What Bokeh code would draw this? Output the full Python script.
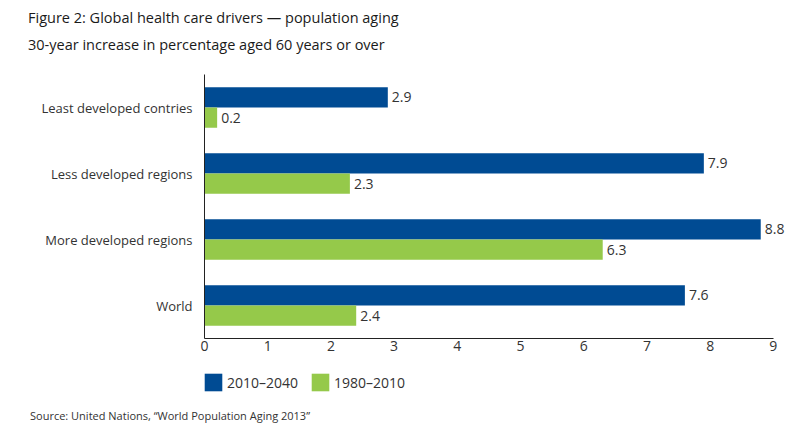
from bokeh.plotting import figure
from bokeh.layouts import column
from bokeh.models import Range1d, FactorRange, Legend, LegendItem, ColumnDataSource, Div
from bokeh.transform import dodge
from bokeh.core.properties import value
from bokeh.embed import file_html
from bokeh.resources import INLINE

categories = ["Least developed contries", "Less developed regions", "More developed regions", "World"]
series_2010_2040 = [2.9, 7.9, 8.8, 7.6]
series_1980_2010 = [0.2, 2.3, 6.3, 2.4]
series_names = ["2010\u20132040", "1980\u20132010"]
x_ticks = [0, 1, 2, 3, 4, 5, 6, 7, 8, 9]
title_text = "Figure 2: Global health care drivers \u2014 population aging"
subtitle_text = "30-year increase in percentage aged 60 years or over"
source_text = "Source: United Nations, \u201cWorld Population Aging 2013\u201d"

BLUE = "#004B93"
GREEN = "#95C94A"
FONT = "Open Sans"
TXT = "#333333"
W = 799

# ---- header (HTML text) ----
hdr_style = "position:absolute;left:28px;font-family:'Open Sans';font-size:14.5px;line-height:20px;color:#1a1a1a;white-space:nowrap;margin:0;padding:0"
header = Div(text=(f'<div style="position:relative;width:{W}px;height:74px">'
                   f'<div style="{hdr_style};top:8px">{title_text}</div>'
                   f'<div style="{hdr_style};top:35px">{subtitle_text}</div></div>'),
             width=W, height=74, margin=(0, 0, 0, 0))

# ---- main chart ----
src = ColumnDataSource(dict(
    cat=categories,
    a=series_2010_2040,
    b=series_1980_2010,
    a_lbl=[f"{v:.1f}" for v in series_2010_2040],
    b_lbl=[f"{v:.1f}" for v in series_1980_2010],
))

p = figure(frame_width=591, frame_height=264, output_backend="svg", toolbar_location=None,
           x_range=Range1d(0, 9.35), y_range=FactorRange(*reversed(categories), range_padding=0),
           min_border_left=204, min_border_right=4, min_border_top=0, min_border_bottom=22)
p.outline_line_color = None
p.xgrid.grid_line_color = None
p.ygrid.grid_line_color = None

bh = 0.305
p.hbar(y=dodge("cat", 0.5 * bh, range=p.y_range), right="a", left=0, height=bh,
       color=BLUE, line_color=None, source=src)
p.hbar(y=dodge("cat", -0.5 * bh, range=p.y_range), right="b", left=0, height=bh,
       color=GREEN, line_color=None, source=src)

p.text(x="a", y=dodge("cat", 0.5 * bh, range=p.y_range), text="a_lbl", source=src,
       x_offset=4, text_baseline="middle", text_font=value(FONT), text_font_size="14px",
       text_color=TXT)
p.text(x="b", y=dodge("cat", -0.5 * bh, range=p.y_range), text="b_lbl", source=src,
       x_offset=4, text_baseline="middle", text_font=value(FONT), text_font_size="14px",
       text_color=TXT)

p.xaxis.ticker = x_ticks
p.xaxis.bounds = (0, 9)
p.xaxis.major_tick_out = 0
p.xaxis.major_tick_in = 0
p.xaxis.major_tick_line_color = None
p.xaxis.minor_tick_line_color = None
p.xaxis.axis_line_color = "#222222"
p.xaxis.major_label_text_font = FONT
p.xaxis.major_label_text_font_size = "14px"
p.xaxis.major_label_text_color = TXT
p.xaxis.major_label_standoff = 2

p.yaxis.major_tick_out = 0
p.yaxis.major_tick_in = 0
p.yaxis.major_tick_line_color = None
p.yaxis.minor_tick_line_color = None
p.yaxis.axis_line_color = "#222222"
p.yaxis.major_label_text_font = FONT
p.yaxis.major_label_text_font_size = "13px"
p.yaxis.major_label_text_color = TXT
p.yaxis.major_label_standoff = 12

# ---- legend strip (same data, hidden renderers feed the legend) ----
leg = figure(frame_width=591, frame_height=40, output_backend="svg", toolbar_location=None,
             x_range=p.x_range, y_range=FactorRange(*reversed(categories)),
             x_axis_location=None, y_axis_location=None,
             min_border_left=204, min_border_right=4, min_border_top=0, min_border_bottom=0)
leg.outline_line_color = None
leg.grid.grid_line_color = None
la = leg.hbar(y="cat", right="a", left=0, height=0.3, color=BLUE, line_color=None,
              source=src, visible=False)
lb = leg.hbar(y="cat", right="b", left=0, height=0.3, color=GREEN, line_color=None,
              source=src, visible=False)
legend = Legend(items=[LegendItem(label=series_names[0], renderers=[la]),
                       LegendItem(label=series_names[1], renderers=[lb])],
                orientation="horizontal", location=(-2, 7),
                glyph_width=22, glyph_height=22, label_height=22, label_standoff=3, spacing=11,
                padding=0, margin=0, border_line_color=None, background_fill_alpha=0,
                inactive_fill_alpha=0,
                label_text_font=FONT, label_text_font_size="14px", label_text_color=TXT)
leg.add_layout(legend)

# ---- source (HTML text) ----
footer = Div(text=(f'<div style="position:relative;width:{W}px;height:28px">'
                   f'<div style="position:absolute;left:30px;top:9px;font-family:\'Open Sans\';'
                   f'font-size:11px;line-height:14px;color:{TXT};white-space:nowrap">{source_text}</div></div>'),
             width=W, height=28, margin=(0, 0, 0, 0))

layout = column(header, p, leg, footer, spacing=0)
open("out.html", "w").write(file_html(layout, INLINE))
